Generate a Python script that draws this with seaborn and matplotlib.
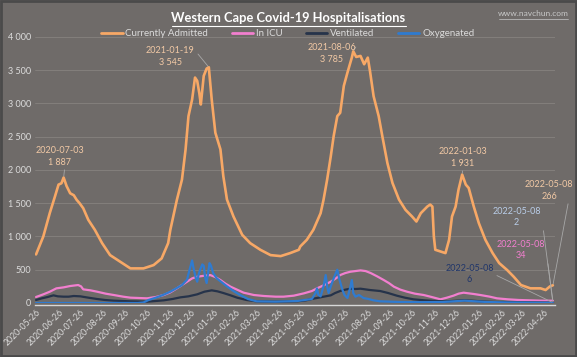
import numpy as np
import pandas as pd
import matplotlib
matplotlib.use("Agg")
import matplotlib.pyplot as plt
import matplotlib.dates as mdates
from matplotlib.patches import Rectangle
from matplotlib.lines import Line2D
import seaborn as sns

START = "2020-05-26"

# Currently Admitted (day offset from START, value)
adm_days = [0, 10, 19, 26, 31, 35, 38, 42, 47, 52, 56, 60, 65, 72, 81, 91, 102, 116, 130, 148,
            162, 173, 182, 185, 194, 201, 206, 210, 215, 219, 222, 225, 227, 231, 235, 238, 242,
            247, 254, 258, 263, 272, 284, 295, 309, 323, 337, 350, 362, 364, 373, 382, 392, 396,
            401, 406, 410, 415, 419, 424, 429, 435, 437, 441, 447, 452, 457, 460, 465, 472, 477,
            484, 491, 500, 509, 518, 524, 530, 539, 543, 546, 548, 550, 557, 564, 569, 573, 578,
            582, 587, 592, 596, 603, 610, 619, 629, 638, 649, 658, 668, 681, 695, 702, 708, 712]
adm_vals = [730, 1000, 1355, 1600, 1780, 1800, 1887, 1760, 1650, 1620, 1550, 1500, 1425, 1250,
            1100, 900, 720, 620, 520, 520, 570, 670, 900, 1100, 1550, 1855, 2310, 2810, 3060,
            3390, 3340, 3150, 2985, 3415, 3525, 3545, 3060, 2560, 2310, 1905, 1555, 1300, 1025,
            900, 800, 720, 705, 750, 800, 850, 950, 1100, 1350, 1550, 1855, 2205, 2510, 2810,
            2860, 3265, 3465, 3690, 3785, 3700, 3715, 3590, 3690, 3490, 3110, 2810, 2510, 2105,
            1805, 1555, 1400, 1300, 1225, 1350, 1450, 1480, 1450, 1000, 800, 775, 750, 950,
            1300, 1450, 1705, 1931, 1780, 1730, 1450, 1200, 950, 750, 600, 495, 395, 270, 220,
            220, 195, 250, 266]

# In ICU
icu_days = [0, 10, 19, 28, 38, 47, 58, 62, 65, 75, 84, 96, 107, 120, 130, 153, 165, 176, 185,
            194, 201, 208, 215, 222, 232, 240, 247, 254, 261, 268, 277, 286, 300, 314, 330, 341,
            355, 369, 380, 387, 397, 406, 413, 419, 426, 433, 440, 447, 454, 461, 470, 479, 486,
            493, 502, 511, 522, 534, 545, 557, 566, 575, 582, 589, 596, 603, 612, 625, 635, 650,
            665, 680, 695, 712]
icu_vals = [90, 130, 170, 220, 235, 255, 270, 250, 205, 190, 170, 140, 120, 95, 80, 70, 90, 120,
            160, 220, 270, 320, 370, 395, 410, 420, 390, 345, 290, 245, 200, 155, 120, 105, 95,
            95, 110, 145, 180, 220, 270, 320, 370, 420, 450, 470, 480, 490, 480, 450, 400, 345,
            300, 245, 200, 170, 140, 120, 90, 55, 80, 110, 140, 155, 145, 135, 120, 95, 70, 55,
            45, 40, 35, 34]

# Ventilated
ven_days = [0, 8, 16, 24, 30, 38, 45, 52, 61, 72, 84, 95, 107, 130, 153, 165, 176, 188, 199,
            210, 222, 232, 242, 250, 258, 268, 277, 290, 304, 330, 360, 372, 382, 394, 406, 412,
            419, 426, 433, 440, 447, 460, 474, 485, 497, 508, 520, 535, 550, 566, 580, 589, 600,
            620, 635, 660, 690, 712]
ven_vals = [45, 70, 90, 115, 100, 95, 95, 105, 100, 80, 60, 45, 35, 25, 20, 30, 40, 60, 85, 100,
            130, 170, 190, 175, 150, 115, 80, 45, 25, 20, 25, 40, 65, 90, 115, 150, 180, 200, 215,
            210, 215, 195, 180, 150, 110, 80, 55, 40, 30, 25, 35, 40, 35, 20, 15, 10, 8, 6]

# Oxygenated
oxy_days = [0, 140, 148, 155, 165, 176, 185, 194, 201, 208, 212, 215, 217, 220, 222, 224, 226,
            229, 231, 233, 235, 237, 239, 241, 244, 249, 256, 263, 272, 281, 292, 304, 330, 360,
            380, 385, 387, 389, 392, 396, 399, 401, 403, 406, 410, 413, 415, 418, 422, 425, 429,
            432, 435, 437, 440, 445, 451, 458, 465, 474, 500, 530, 560, 575, 590, 605, 620, 650,
            680, 712]
oxy_vals = [0, 0, 8, 45, 80, 125, 170, 225, 270, 350, 520, 640, 520, 380, 320, 430, 500, 580,
            560, 380, 300, 450, 600, 560, 450, 370, 310, 250, 180, 120, 60, 25, 20, 30, 60, 150,
            220, 120, 100, 250, 420, 250, 150, 250, 370, 450, 500, 350, 200, 120, 75, 200, 345,
            150, 95, 120, 75, 60, 40, 25, 15, 12, 15, 25, 35, 25, 15, 8, 5, 2]

series_names = ["Currently Admitted", "In ICU", "Ventilated", "Oxygenated"]
series_colors = ["#f7a866", "#f27fcf", "#26334a", "#2f7bd0"]

# annotation data
ann_dates = ["2020-07-03", "2021-01-19", "2021-08-06", "2022-01-03",
             "2022-05-08", "2022-05-08", "2022-05-08", "2022-05-08"]
ann_values = [1887, 3545, 3785, 1931, 266, 2, 34, 6]
ann_labels = ["1 887", "3 545", "3 785", "1 931", "266", "2", "34", "6"]

start = pd.Timestamp(START)
frames = []
for name, days, vals in [(series_names[0], adm_days, adm_vals),
                         (series_names[1], icu_days, icu_vals),
                         (series_names[2], ven_days, ven_vals),
                         (series_names[3], oxy_days, oxy_vals)]:
    frames.append(pd.DataFrame({
        "date": start + pd.to_timedelta(days, unit="D"),
        "value": vals,
        "series": name,
    }))
df = pd.concat(frames, ignore_index=True)

BG = "#6f6b69"
TXT = "#dcdcdc"

sns.set_theme(style="dark")
plt.rcParams["font.family"] = ["Lato", "DejaVu Sans"]

fig = plt.figure(figsize=(5.77, 3.57), dpi=100, facecolor=BG)
ax = fig.add_axes([0.0607, 0.1513, 0.9013, 0.7451])
ax.set_facecolor(BG)

for s in ["top", "right", "left"]:
    ax.spines[s].set_visible(False)
ax.spines["bottom"].set_position(("outward", 1.5))
ax.spines["bottom"].set_color("#d8d8d8")
ax.spines["bottom"].set_linewidth(1.0)
ax.spines["bottom"].set_zorder(1.5)

sns.lineplot(data=df, x="date", y="value", hue="series", hue_order=series_names,
             palette=dict(zip(series_names, series_colors)), linewidth=1.6,
             estimator=None, sort=False, ax=ax, legend=False)
ax.lines[0].set_linewidth(1.9)

ax.set_ylim(0, 4000)
ax.set_xlim(mdates.date2num(start - pd.Timedelta(days=1.4)),
            mdates.date2num(start + pd.Timedelta(days=715)))
ax.set_yticks(np.arange(0, 4001, 500))
ax.set_yticklabels([f"{v:,}".replace(",", " ") for v in range(0, 4001, 500)])
ax.grid(axis="y", color="#86827f", linewidth=0.6)
ax.grid(axis="x", visible=False)
ax.set_axisbelow(True)

ticks = pd.date_range(START, periods=24, freq=pd.DateOffset(months=1))
ax.set_xticks(mdates.date2num(ticks))
ax.set_xticklabels([t.strftime("%Y-%m-%d") for t in ticks], rotation=45, ha="right",
                   rotation_mode="anchor", fontsize=6.3, color=TXT)
ax.tick_params(axis="y", labelsize=6.5, labelcolor=TXT, length=0, pad=3)
ax.tick_params(axis="x", length=0, pad=2)
ax.set_xlabel("")
ax.set_ylabel("")

# legend
handles = [Line2D([], [], color=c, linewidth=2) for c in series_colors]
fig.legend(handles, series_names, loc="center", bbox_to_anchor=(0.499, 0.905), ncol=4,
           frameon=False, fontsize=7, labelcolor=TXT, handlelength=2.2,
           columnspacing=2.4, handletextpad=0.3)

# title
fig.text(0.5, 0.950, "Western Cape Covid-19 Hospitalisations", ha="center", va="center",
         fontsize=9.3, fontweight="bold", color="white")
fig.add_artist(Line2D([0.298, 0.703], [0.926, 0.926], color="white", linewidth=0.8,
                      transform=fig.transFigure))
fig.text(0.985, 0.963, "www.navchun.com", ha="right", va="center", fontsize=6,
         color="#c8c8c8")
fig.add_artist(Line2D([0.865, 0.985], [0.947, 0.947], color="#c8c8c8", linewidth=0.5,
                      transform=fig.transFigure))

# annotations: text position (day offset, y) & colors
ann_text_pos = [(33, 2208), (185, 3710), (407, 3755), (588, 2192),
                (707, 1697), (662, 1292), (668, 796), (597, 436)]
ann_colors = ["#f2c9a5", "#f2c9a5", "#f2c9a5", "#f2c9a5", "#f2c9a5",
              "#b9cde8", "#f27fcf", "#1f3569"]
ann_relpos = [(0.6, 0.0), (1.0, 0.8), (1.0, 0.8), (0.5, 0.0), (0.9, 0.0),
              (1.0, 0.8), (1.0, 0.8), (1.0, 0.5)]
for d, v, lab, (tx, ty), col, rp in zip(ann_dates, ann_values, ann_labels, ann_text_pos,
                                        ann_colors, ann_relpos):
    ax.annotate(f"{d}\n{lab}", xy=(mdates.date2num(pd.Timestamp(d)), v),
                xytext=(mdates.date2num(start + pd.Timedelta(days=tx)), ty),
                ha="center", va="center", fontsize=6.5, color=col, linespacing=1.4,
                arrowprops=dict(arrowstyle="-", color="#a8a8a8", linewidth=0.6,
                                relpos=rp, shrinkA=0, shrinkB=1))

# frame
fig.add_artist(Rectangle((0.002, 0.003), 0.996, 0.994, transform=fig.transFigure,
                         fill=False, edgecolor="#4a4a4a", linewidth=2))

fig.savefig("out.png", dpi=100, facecolor=BG)
